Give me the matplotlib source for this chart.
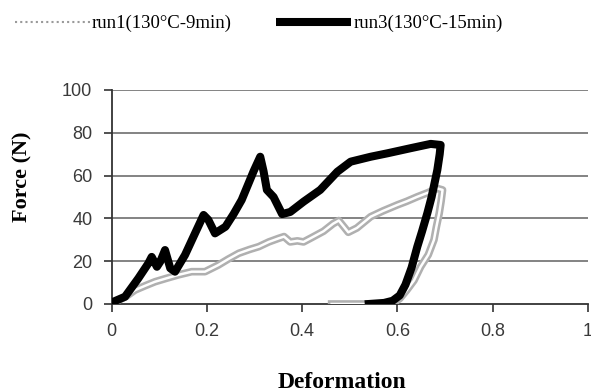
import numpy as np
import matplotlib
matplotlib.use("Agg")
import matplotlib.pyplot as plt
import matplotlib.patheffects as pe
from matplotlib.lines import Line2D

# run1 (130°C-9min): loading then unloading back to zero
run1_x = [0.0, 0.007, 0.03, 0.049, 0.07, 0.091, 0.115, 0.14, 0.168, 0.196, 0.224,
          0.245, 0.267, 0.29, 0.309, 0.33, 0.351, 0.362, 0.375, 0.39, 0.403, 0.42,
          0.445, 0.465, 0.477, 0.488, 0.497, 0.515, 0.544, 0.57, 0.6, 0.62, 0.642,
          0.664, 0.684, 0.695, 0.692, 0.688, 0.682, 0.677, 0.665, 0.649, 0.635,
          0.62, 0.605, 0.59, 0.55, 0.5, 0.462]
run1_y = [0.0, 1.0, 3.5, 6.5, 8.5, 10.4, 12.0, 13.6, 15.1, 15.1, 18.2,
          21.0, 23.7, 25.5, 26.8, 29.0, 30.7, 31.5, 29.0, 29.5, 29.0, 31.0,
          34.0, 37.5, 39.0, 36.0, 33.5, 35.5, 40.8, 43.5, 46.3, 48.0, 50.1,
          52.0, 54.0, 53.3, 48.0, 42.4, 36.0, 30.0, 23.0, 17.4, 11.0,
          6.5, 2.5, 0.3, 0.0, 0.0, 0.0]

# run3 (130°C-15min)
run3_x = [0.0, 0.003, 0.028, 0.056, 0.077, 0.084, 0.095, 0.102, 0.112, 0.123,
          0.133, 0.154, 0.175, 0.193, 0.203, 0.217, 0.239, 0.256, 0.273, 0.298,
          0.312, 0.319, 0.326, 0.34, 0.358, 0.375, 0.403, 0.438, 0.474, 0.502,
          0.544, 0.579, 0.628, 0.67, 0.691, 0.689, 0.684, 0.672, 0.663, 0.652,
          0.642, 0.63, 0.617, 0.605, 0.59, 0.572, 0.54]
run3_y = [0.0, 1.0, 3.4, 12.0, 19.0, 22.0, 17.4, 19.8, 25.2, 16.7,
          15.1, 22.9, 33.0, 41.6, 39.3, 33.0, 36.1, 42.0, 48.6, 62.0,
          68.8, 62.0, 53.3, 50.0, 42.0, 43.0, 47.8, 53.3, 61.8, 66.5,
          68.8, 70.4, 72.8, 74.8, 74.3, 70.0, 62.6, 50.0, 42.4, 34.0,
          26.8, 17.0, 9.0, 4.0, 1.5, 0.5, 0.0]

x_ticks = [0, 0.2, 0.4, 0.6, 0.8, 1]
x_tick_labels = ["0", "0.2", "0.4", "0.6", "0.8", "1"]
y_ticks = [0, 20, 40, 60, 80, 100]

fig = plt.figure(figsize=(5.91, 3.92), dpi=100)
ax = fig.add_axes([0.189, 0.2245, 0.8055, 0.546])

for y in y_ticks[1:]:
    ax.axhline(y, color="#7a7a7a", lw=1.3, zorder=0)

ax.plot(run1_x, run1_y, color="white", lw=1.8, solid_joinstyle="round",
        path_effects=[pe.Stroke(linewidth=5.5, foreground="#b0b0b0"), pe.Normal()],
        zorder=2)
ax.plot(run3_x, run3_y, color="black", lw=5.8, solid_joinstyle="round", zorder=3)

ax.set_xlim(0, 1)
ax.set_ylim(0, 100)
ax.set_xticks(x_ticks)
ax.set_xticklabels(x_tick_labels)
ax.set_yticks(y_ticks)
for s in ["top", "right"]:
    ax.spines[s].set_visible(False)
for s in ["left", "bottom"]:
    ax.spines[s].set_color("#333333")
    ax.spines[s].set_linewidth(1.3)
ax.spines["bottom"].set_zorder(1)
ax.tick_params(direction="out", length=6, width=1.2, color="#333333",
               labelsize=13, labelcolor="#3a3a3a", pad=8)
for lab in ax.get_xticklabels() + ax.get_yticklabels():
    lab.set_family("Liberation Sans")

ax.set_ylabel("Force (N)", family="Liberation Serif", fontweight="bold",
              fontsize=16, va="center")
ax.yaxis.set_label_coords(-0.188, 0.593)
ax.set_xlabel("Deformation", family="Liberation Serif", fontweight="bold",
              fontsize=17, va="center")
ax.xaxis.set_label_coords(0.484, -0.369)

handles = [Line2D([], [], color="#9a9a9a", lw=1.5, linestyle=(0, (1, 1.5))),
           Line2D([], [], color="black", lw=5.8, solid_capstyle="butt")]
fig.legend(handles, ["run1(130°C-9min)", "run3(130°C-15min)"],
           loc="upper left", bbox_to_anchor=(-0.004, 1.005), ncol=2, frameon=False,
           handlelength=4.0, handletextpad=0.1, columnspacing=2.4,
           prop={"family": "Liberation Serif", "size": 13.5})

fig.savefig("out.png", dpi=100)
